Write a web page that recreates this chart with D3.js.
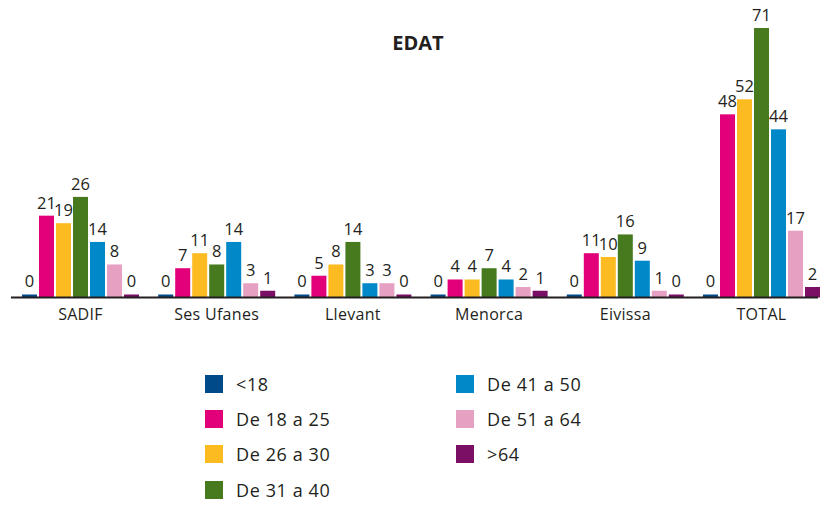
<!DOCTYPE html>
<html>
<head>
<meta charset="utf-8">
<script src="https://cdn.jsdelivr.net/npm/d3@7"></script>
<style>
  body { margin: 0; background: #fff; }
  text { font-family: "Open Sans", "Noto Sans", sans-serif; fill: #231f20; }
</style>
</head>
<body>
<svg id="chart" width="828" height="506"></svg>
<script>
var categories = ["SADIF", "Ses Ufanes", "Llevant", "Menorca", "Eivissa", "TOTAL"];
var seriesNames = ["<18", "De 18 a 25", "De 26 a 30", "De 31 a 40", "De 41 a 50", "De 51 a 64", ">64"];
var under18 = [0, 0, 0, 0, 0, 0];
var de18a25 = [21, 7, 5, 4, 11, 48];
var de26a30 = [19, 11, 8, 4, 10, 52];
var de31a40 = [26, 8, 14, 7, 16, 71];
var de41a50 = [14, 14, 3, 4, 9, 44];
var de51a64 = [8, 3, 3, 2, 1, 17];
var over64 = [0, 1, 0, 1, 0, 2];
var colors = ["#004a8a", "#e2007a", "#fbbb21", "#477a1e", "#0088c8", "#e6a0c2", "#7a0f65"];

var series = [under18, de18a25, de26a30, de31a40, de41a50, de51a64, over64];

var svg = d3.select("#chart");

var baseY = 297.5;

var x0 = d3.scaleBand()
  .domain(categories)
  .range([22, 820])
  .paddingInner(0.141)
  .paddingOuter(0);

var x1 = d3.scaleBand()
  .domain(d3.range(seriesNames.length))
  .range([0, 117])
  .paddingInner(2 / 17)
  .paddingOuter(0);

// domain starts a bit below zero so that zero values still show a stub
var y = d3.scaleLinear()
  .domain([-0.8, 71])
  .range([baseY, 28]);

// title
svg.append("text")
  .attr("x", 418)
  .attr("y", 50)
  .attr("text-anchor", "middle")
  .style("font-size", "20px")
  .style("font-weight", "bold")
  .text("EDAT");

var groups = svg.selectAll("g.group")
  .data(categories)
  .enter().append("g")
  .attr("class", "group")
  .attr("transform", function (d) { return "translate(" + x0(d) + ",0)"; });

groups.selectAll("rect")
  .data(function (d, i) { return series.map(function (s, k) { return { k: k, v: s[i] }; }); })
  .enter().append("rect")
  .attr("x", function (d) { return x1(d.k); })
  .attr("y", function (d) { return y(d.v); })
  .attr("width", x1.bandwidth())
  .attr("height", function (d) { return baseY - y(d.v); })
  .attr("fill", function (d) { return colors[d.k]; });

groups.selectAll("text.val")
  .data(function (d, i) { return series.map(function (s, k) { return { k: k, v: s[i] }; }); })
  .enter().append("text")
  .attr("class", "val")
  .attr("x", function (d) { return x1(d.k) + x1.bandwidth() / 2; })
  .attr("y", function (d) { return y(d.v) - 7; })
  .attr("text-anchor", "middle")
  .style("font-size", "16.5px")
  .text(function (d) { return d.v; });

// axis line
svg.append("line")
  .attr("x1", 11)
  .attr("x2", 818)
  .attr("y1", baseY)
  .attr("y2", baseY)
  .attr("stroke", "#231f20")
  .attr("stroke-width", 2);

// category labels
svg.selectAll("text.cat")
  .data(categories)
  .enter().append("text")
  .attr("class", "cat")
  .attr("x", function (d) { return x0(d) + x0.bandwidth() / 2; })
  .attr("y", 320)
  .attr("text-anchor", "middle")
  .style("font-size", "16px")
  .style("letter-spacing", "0.3px")
  .text(function (d) { return d; });

// legend
var legendRows = [375, 410, 445, 481];
var legend = svg.selectAll("g.legend")
  .data(seriesNames)
  .enter().append("g")
  .attr("class", "legend")
  .attr("transform", function (d, i) {
    var col = i < 4 ? 0 : 1;
    var row = i < 4 ? i : i - 4;
    return "translate(" + (col === 0 ? 205 : 456) + "," + legendRows[row] + ")";
  });

legend.append("rect")
  .attr("width", 18)
  .attr("height", 18)
  .attr("fill", function (d, i) { return colors[i]; });

legend.append("text")
  .attr("x", 31)
  .attr("y", 15.5)
  .style("font-size", "18px")
  .style("letter-spacing", "0.6px")
  .text(function (d) { return d; });
</script>
</body>
</html>
